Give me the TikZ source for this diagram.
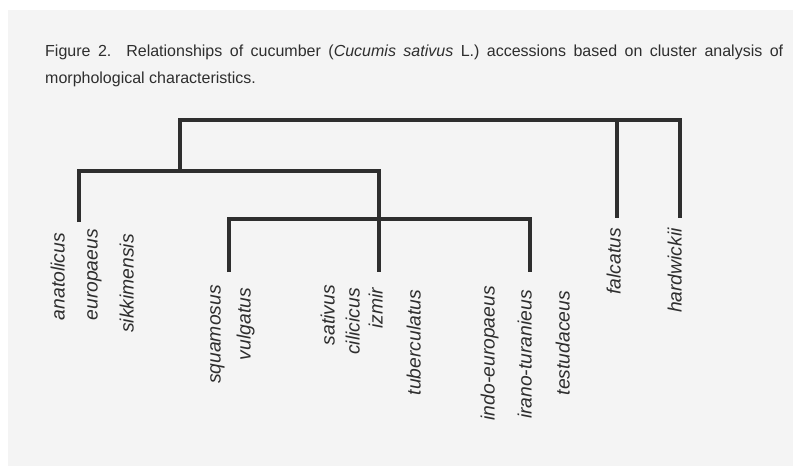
\documentclass[tikz,border=0pt]{standalone}
\usepackage{fontspec}
\setmainfont{Liberation Sans}
\usepackage{xcolor}
\definecolor{paper}{HTML}{F4F4F4}
\definecolor{ink}{HTML}{2E2E2E}

\begin{document}
\begin{tikzpicture}[x=1pt, y=-1pt,
	branch/.style={draw=ink, line width=3.6pt},
	taxon/.style={rotate=90, anchor=mid east, inner sep=0pt, text=ink, font=\fontsize{19.3}{20}\selectfont\itshape}]
				\useasboundingbox (0,0) rectangle (793,466);
				\fill[paper] (8,10) rectangle (793,466);
				\node[anchor=north west, text width=738pt, align=justify, inner sep=0pt, text=ink, font=\fontsize{16}{27}\selectfont] (title) at (45,44.5) {Figure 2.\ \ Relationships of cucumber (\textit{Cucumis sativus} L.) accessions based on cluster analysis of \mbox{morphological} characteristics.};
				% taxa
				\node[taxon] (ana) at (62, 233) {anatolicus};
				\node[taxon] (eur) at (95, 229) {europaeus};
				\node[taxon] (sik) at (131, 234) {sikkimensis};
				\node[taxon] (squ) at (218, 285) {squamosus};
				\node[taxon] (vul) at (248, 288) {vulgatus};
				\node[taxon] (sat) at (332, 285) {sativus};
				\node[taxon] (cil) at (357, 288) {cilicicus};
				\node[taxon] (izm) at (380, 288) {izmir};
				\node[taxon] (tub) at (418, 290) {tuberculatus};
				\node[taxon] (ind) at (492, 286) {indo-europaeus};
				\node[taxon] (ira) at (529, 290) {irano-turanieus};
				\node[taxon] (tes) at (567, 291) {testudaceus};
				\node[taxon] (fal) at (618, 228) {falcatus};
				\node[taxon] (har) at (679, 228) {hardwickii};
				% joins
				\coordinate (rootL) at (180, 120);
				\coordinate (rootR) at (680, 120);
				\coordinate (rootF) at (617, 120);
				\coordinate (grpT) at (180, 171);
				\coordinate (grpR) at (379, 171);
				\coordinate (subR) at (530, 219);
				\coordinate (tAna) at (79, 222);
				\coordinate (tIzm) at (379, 272);
				\coordinate (tSqu) at (229, 272);
				\coordinate (tIra) at (530, 272);
				\coordinate (tFal) at (617, 218);
				\coordinate (tHar) at (680, 218);
				\draw[branch] (grpT) |- (rootR) -- (tHar);
				\draw[branch] (rootF) -- (tFal);
				\draw[branch] (tAna) |- (grpR) -- (tIzm);
				\draw[branch] (tSqu) |- (subR) -- (tIra);
			\end{tikzpicture}
\end{document}
